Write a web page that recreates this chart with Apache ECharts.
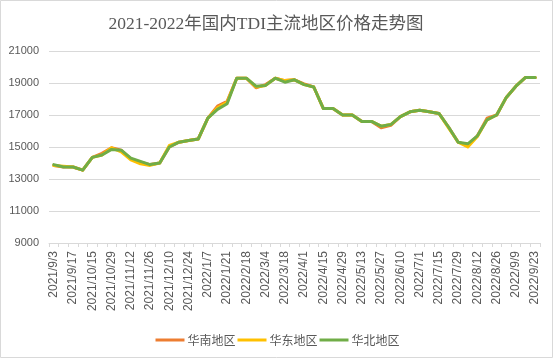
<!DOCTYPE html>
<html>
<head>
<meta charset="utf-8">
<script src="https://cdn.jsdelivr.net/npm/echarts@6/dist/echarts.min.js"></script>
<style>html,body{margin:0;padding:0;background:#fff}#c{width:555px;height:359px}</style>
</head>
<body>
<div id="c"></div>
<script>
const categories = ["2021/9/3","2021/9/10","2021/9/17","2021/9/24","2021/10/15","2021/10/22","2021/10/29","2021/11/5","2021/11/12","2021/11/19","2021/11/26","2021/12/3","2021/12/10","2021/12/17","2021/12/24","2021/12/31","2022/1/7","2022/1/14","2022/1/21","2022/2/11","2022/2/18","2022/2/25","2022/3/4","2022/3/11","2022/3/18","2022/3/25","2022/4/1","2022/4/8","2022/4/15","2022/4/22","2022/4/29","2022/5/6","2022/5/13","2022/5/20","2022/5/27","2022/6/2","2022/6/10","2022/6/17","2022/7/1","2022/7/8","2022/7/15","2022/7/22","2022/7/29","2022/8/5","2022/8/12","2022/8/19","2022/8/26","2022/9/2","2022/9/9","2022/9/16","2022/9/23"];
const southChina = [13850,13750,13750,13550,14350,14600,14950,14800,14250,14050,13900,14000,15000,15300,15400,15500,16800,17550,17850,19300,19300,18700,18900,19300,19150,19200,18950,18750,17400,17400,17000,17000,16600,16600,16200,16350,16900,17200,17300,17200,17100,16250,15300,15100,15700,16800,17000,18100,18800,19350,19350];
const eastChina = [13850,13800,13750,13550,14350,14500,14950,14700,14200,13950,13850,14000,15100,15300,15400,15500,16800,17450,17800,19300,19300,18750,18850,19300,19150,19200,18900,18750,17400,17400,17000,17000,16600,16600,16300,16400,16900,17200,17300,17200,17100,16200,15300,15000,15650,16700,17000,18100,18800,19350,19350];
const northChina = [13900,13750,13750,13550,14350,14500,14850,14800,14300,14100,13900,14000,15000,15300,15400,15500,16800,17350,17700,19300,19300,18800,18850,19300,19050,19200,18900,18750,17400,17400,17000,17000,16600,16600,16300,16400,16900,17200,17300,17200,17100,16250,15300,15200,15700,16700,17000,18100,18800,19350,19350];
const seriesNames = ["华南地区","华东地区","华北地区"];
const colors = ["#ED7D31","#FFC000","#70AD47"];

const chart = echarts.init(document.getElementById('c'), null, {renderer:'canvas'});
const mk = (name, data, color) => ({
  name, type:'line', data, symbol:'none', smooth:false,
  lineStyle:{color, width:3, cap:'round', join:'round'},
  itemStyle:{color}
});
chart.setOption({
  animation:false,
  backgroundColor:'#fff',
  color: colors,
  title:{
    text:'2021-2022年国内TDI主流地区价格走势图',
    left:261, top:11, textAlign:'center',
    textStyle:{fontFamily:'Liberation Serif, Noto Sans CJK SC', fontSize:17.5, fontWeight:'normal', color:'#595959'}
  },
  graphic:[{type:'rect', shape:{x:0.5,y:0.5,width:552,height:357}, style:{fill:'none', stroke:'#d9d9d9', lineWidth:1}, silent:true}],
  legend:{
    bottom:8, left:'center', itemWidth:29, itemHeight:3, itemGap:2, icon:'rect',
    data: seriesNames,
    textStyle:{fontFamily:'Noto Sans CJK SC', fontSize:12, color:'#595959', padding:[0,0,0,-2]}
  },
  grid:{left:49, right:15, top:51, bottom:116, containLabel:false},
  xAxis:{
    type:'category', data:categories, boundaryGap:true,
    axisLine:{lineStyle:{color:'#d9d9d9'}},
    axisTick:{show:true, interval:0, length:4, lineStyle:{color:'#d9d9d9'}},
    axisLabel:{interval:1, rotate:90, margin:8, fontFamily:'Liberation Sans', fontSize:12, color:'#595959'}
  },
  yAxis:{
    type:'value', min:9000, max:21000, interval:2000,
    axisLine:{show:false}, axisTick:{show:false},
    splitLine:{lineStyle:{color:'#d9d9d9', width:1}},
    axisLabel:{margin:10, fontFamily:'Liberation Sans', fontSize:11, color:'#595959', formatter:(v)=>String(v)}
  },
  series:[mk(seriesNames[0], southChina, colors[0]), mk(seriesNames[1], eastChina, colors[1]), mk(seriesNames[2], northChina, colors[2])]
});
</script>
</body>
</html>
